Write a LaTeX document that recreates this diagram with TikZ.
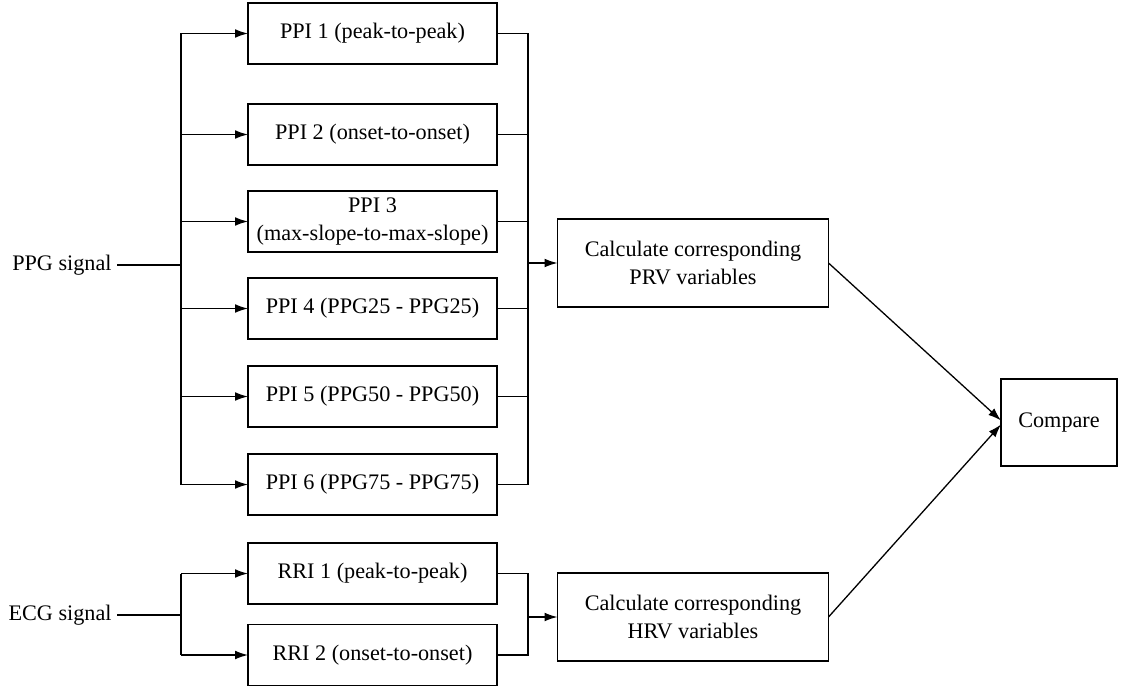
\documentclass[tikz,border=0pt]{standalone}
\usepackage{fontspec}
\setmainfont{Liberation Serif}
\usetikzlibrary{arrows.meta}
\begin{document}
\begin{tikzpicture}[x=0.5pt,y=-0.5pt,
  every node/.style={font=\fontsize{11.1}{13.6}\selectfont},
  box/.style={draw, line width=0.65pt, inner sep=0pt, outer sep=0pt, align=center},
  ppibox/.style={box, minimum width=124.5pt, minimum height=30.5pt},
  calcbox/.style={box, minimum width=135.5pt, minimum height=44pt},
  lbl/.style={inner sep=2.5pt, anchor=east},
  ln/.style={line width=0.65pt},
  arr/.style={line width=0.65pt, -{Latex[length=6.5pt,width=4.4pt]}}]
\useasboundingbox (0,0) rectangle (1128,690);

% PPI boxes
\node[ppibox] (p1) at (372.5,33.5) {PPI 1 (peak-to-peak)};
\node[ppibox] (p2) at (372.5,134.5) {PPI 2 (onset-to-onset)};
\node[ppibox] (p3) at (372.5,221.5) {PPI 3\\(max-slope-to-max-slope)};
\node[ppibox] (p4) at (372.5,308.5) {PPI 4 (PPG25 - PPG25)};
\node[ppibox] (p5) at (372.5,396.5) {PPI 5 (PPG50 - PPG50)};
\node[ppibox] (p6) at (372.5,484.5) {PPI 6 (PPG75 - PPG75)};
% RRI boxes
\node[ppibox] (r1) at (372.5,573.5) {RRI 1 (peak-to-peak)};
\node[ppibox] (r2) at (372.5,655) {RRI 2 (onset-to-onset)};
% calc boxes
\node[calcbox] (prv) at (693,263) {Calculate corresponding\\PRV variables};
\node[calcbox] (hrv) at (693,617) {Calculate corresponding\\HRV variables};
\node[box, minimum width=58pt, minimum height=43.5pt] (cmp) at (1059,422.5) {Compare};

% signal labels
\node[lbl] (ppg) at (117,265) {PPG signal};
\node[lbl] (ecg) at (117,615) {ECG signal};

% PPG fan-out
\coordinate (sl) at (181,265);
\draw[ln] (ppg.east) -- (sl);
\draw[ln] (sl |- p1.west) -- (sl |- p6.west);
\foreach \n in {p1,p2,p3,p4,p5,p6}{
  \draw[arr] (sl |- \n.west) -- (\n.west);
}
% PPG fan-in
\coordinate (sr) at (528,263);
\draw[ln] (sr |- p1.east) -- (sr |- p6.east);
\foreach \n in {p1,p2,p3,p4,p5,p6}{
  \draw[ln] (\n.east) -- (sr |- \n.east);
}
\draw[arr] (sr) -- (prv.west);

% ECG fan-out
\coordinate (el) at (181,615);
\draw[ln] (ecg.east) -- (el);
\draw[ln] (el |- r1.west) -- (el |- r2.west);
\draw[arr] (el |- r1.west) -- (r1.west);
\draw[arr] (el |- r2.west) -- (r2.west);
% ECG fan-in
\coordinate (er) at (528,617);
\draw[ln] (r1.east) -- (er |- r1.east) -- (er |- r2.east) -- (r2.east);
\draw[arr] (er) -- (hrv.west);

% compare
\draw[arr] (prv.east) -- ([yshift=1pt]cmp.west);
\draw[arr] (hrv.east) -- ([yshift=-1pt]cmp.west);
\end{tikzpicture}
\end{document}
